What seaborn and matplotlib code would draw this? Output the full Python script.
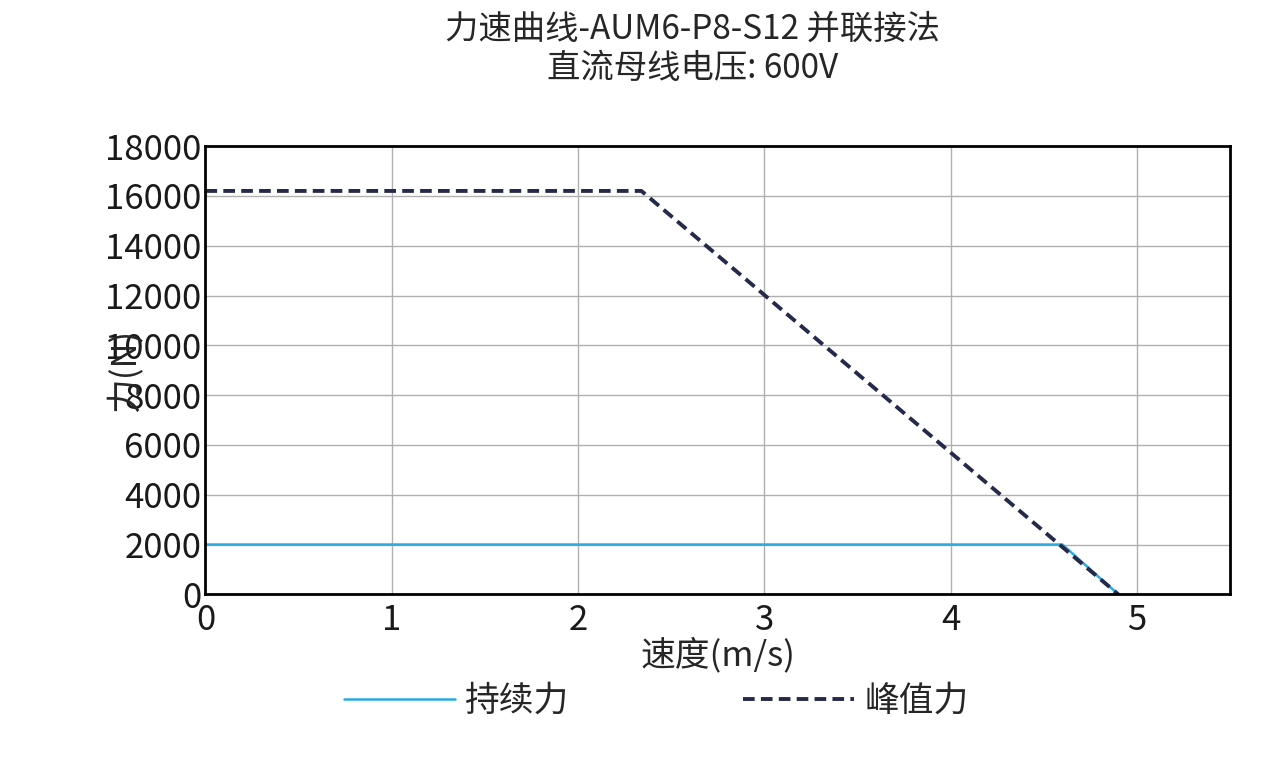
import matplotlib
matplotlib.use("Agg")
import matplotlib.pyplot as plt
import seaborn as sns

peak_speed = [0, 2.34, 4.90]
peak_force = [16200, 16200, 0]
cont_speed = [0, 4.60, 4.90]
cont_force = [2000, 2000, 0]

sns.set_theme(style="whitegrid")
plt.rcParams["font.family"] = ["Noto Sans CJK SC", "DejaVu Sans"]

fig = plt.figure(figsize=(12.76, 7.61), dpi=100)
ax = fig.add_axes([0.161, 0.219, 0.803, 0.589])

sns.lineplot(x=cont_speed, y=cont_force, ax=ax, color="#29abe2", linewidth=1.8, label="持续力")
sns.lineplot(x=peak_speed, y=peak_force, ax=ax, color="#262a4a", linewidth=2.8,
             linestyle=(0, (3, 1.6)), label="峰值力")

ax.set_xlim(0, 5.5)
ax.set_ylim(0, 18000)
ax.set_xticks([0, 1, 2, 3, 4, 5])
ax.set_yticks(range(0, 18001, 2000))
ax.tick_params(labelsize=25, length=0, colors="#1a1a1a")
ax.tick_params(axis="x", pad=6)
ax.tick_params(axis="y", pad=3)
ax.grid(color="#b0b0b0", linewidth=1)
for s in ax.spines.values():
    s.set_edgecolor("black")
    s.set_linewidth(2)
ax.set_xlabel("速度(m/s)", fontsize=25, labelpad=0)
ax.set_ylabel("力(N)", fontsize=25, labelpad=-28)
fig.suptitle("力速曲线-AUM6-P8-S12 并联接法\n直流母线电压: 600V", x=0.543, y=0.985,
             fontsize=24, linespacing=1.15)
ax.legend(loc="upper center", bbox_to_anchor=(0.44, -0.13), ncol=2, frameon=False,
          fontsize=25, handlelength=3.2, columnspacing=5, handletextpad=0.3)

fig.savefig("out.png", dpi=100, facecolor="white")
